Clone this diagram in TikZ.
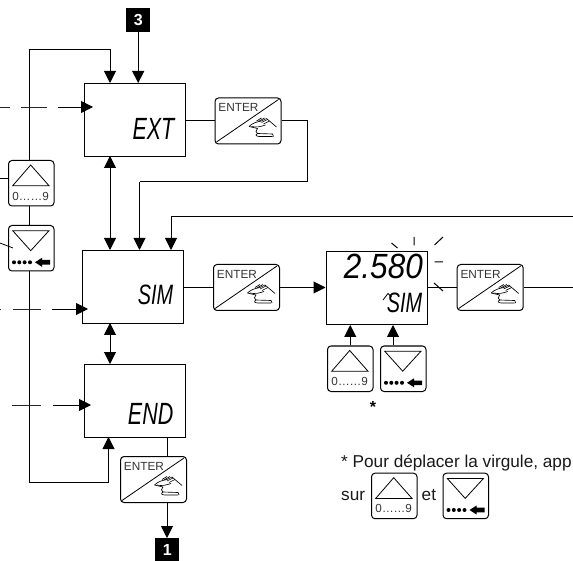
\documentclass[tikz,border=0pt]{standalone}
\usepackage{fontspec}
\setmainfont{Liberation Sans}
\usetikzlibrary{arrows.meta}
\newcommand{\lcdtxt}[3]{{\fontsize{#1}{#1}\selectfont\itshape\scalebox{#2}[1]{#3}}}
\tikzset{
 x=1pt,y=-1pt,
 line/.style={line width=1pt,black},
 arr/.style={line,-{Triangle[length=12pt,width=12pt]}},
 darr/.style={line,{Triangle[length=12pt,width=12pt]}-{Triangle[length=12pt,width=12pt]}},
 dashline/.style={line width=0.9pt,black!85},
 screen/.style={draw,line width=1pt,black,minimum width=101pt,minimum height=73pt,inner sep=0pt,anchor=north west},
 lcd/.style={anchor=east,inner sep=0pt,text=black},
 keybox/.style={draw,line width=1pt,black,rounded corners=3.5pt,minimum width=45.5pt,minimum height=45.5pt,inner sep=0pt,anchor=north west},
 enterbox/.style={draw,line width=1pt,black,rounded corners=3.5pt,minimum width=66pt,minimum height=46pt,inner sep=0pt,anchor=north west},
 tag/.style={fill=black,text=white,font=\fontsize{16}{16}\selectfont\bfseries,minimum size=24pt,inner sep=0pt,anchor=north west},
 txt/.style={font=\fontsize{17.2}{20}\selectfont,anchor=base west,inner sep=0pt,text=black!90},
}
\newcommand{\keyup}[3]{%
 \node[keybox] (#1) at (#2,#3) {};
 \draw[line width=0.8pt] (#2+4.7,#3+25.7) -- (#2+22.7,#3+5) -- (#2+41,#3+25.7) -- cycle;
 \node[font=\fontsize{11.7}{12}\selectfont,inner sep=0pt,text=black!80] at (#2+22.7,#3+36) {0\ldots\ldots9};
}
\newcommand{\keydown}[3]{%
 \node[keybox] (#1) at (#2,#3) {};
 \draw[line width=0.8pt] (#2+4.7,#3+5.7) -- (#2+41,#3+5.7) -- (#2+22.7,#3+25.7) -- cycle;
 \foreach \d in {6,11.3,16.6,22}{\fill (#2+\d,#3+37.3) circle (2pt);}
 \fill (#2+27,#3+37.3) -- (#2+34,#3+32.8) -- (#2+34,#3+35) -- (#2+42,#3+35) -- (#2+42,#3+39.6) -- (#2+34,#3+39.6) -- (#2+34,#3+41.8) -- cycle;
}
\newcommand{\enterkey}[3]{%
 \node[enterbox] (#1) at (#2,#3) {};
 \draw[line width=0.8pt] (#2+2,#3+44.5) -- (#2+64,#3+2);
 \node[font=\fontsize{11.8}{12}\selectfont,inner sep=0pt,anchor=west,text=black!80] at (#2+3.7,#3+10) {ENTER};
 \begin{scope}[shift={(#2,#3)},line width=0.65pt]
  \draw (34.5,29) .. controls (38,25.5) and (42,24.5) .. (47,23.5) -- (52,21);
  \draw (52,21) -- (62,29.5);
  \draw (37,29) .. controls (42,30) and (45,29.5) .. (51,27.5);
  \draw (42,23.5) -- (47,20.5) (44,24) -- (50,20.5) (47,25) -- (53,22) (49,26.5) -- (55,23.5);
  \draw (34.5,29) -- (43,31) .. controls (41,33) and (41,35) .. (43,36) -- (58,36.5) -- (59,39);
  \draw (43,36) .. controls (40,37.5) and (42,39) .. (45,39) -- (58,39);
 \end{scope}
}
\begin{document}
\begin{tikzpicture}
\useasboundingbox (0,0) rectangle (573,561);
% displays
\node[screen] (ext) at (83.5,83) {};
\node[screen] (sim) at (82,250) {};
\node[screen] (endb) at (83.5,364) {};
\node[screen] (val) at (325.5,251) {};
\node[lcd] at (174.5,129) {\lcdtxt{30.7}{0.70}{EXT}};
\node[lcd] at (173.5,295) {\lcdtxt{28}{0.71}{SIM}};
\node[lcd] at (173.5,414) {\lcdtxt{30.7}{0.70}{END}};
\node[lcd] at (423,266.5) {\lcdtxt{35}{0.9}{2.580}};
\node[lcd] at (422.5,303) {\lcdtxt{28}{0.71}{SIM}};
\draw[line width=0.8pt] (383,300) -- (388,293.5) -- (391.5,297);
% keys
\enterkey{e1}{214.5}{97.5}
\enterkey{e2}{213}{264}
\enterkey{e3}{120}{456}
\enterkey{e4}{456.7}{264}
\keyup{u1}{8}{160}
\keydown{d1}{8}{225}
\keyup{u2}{327}{345.5}
\keydown{d2}{380}{345.5}
\keyup{u3}{371}{472.7}
\keydown{d3}{442.5}{472.7}
\node[tag] (t3) at (126,8) {3};
\node[tag] (t1) at (155,538) {1};
% coordinates
\coordinate (cA) at (29,50);
\coordinate (cB) at (29,482);
\coordinate (cC) at (307,120);
\coordinate (cE) at (139.5,182);
\coordinate (cF) at (573,217);
\coordinate (cG) at (171,217);
\coordinate (cH) at (573,286);
\coordinate (cI) at (167,0);
\coordinate (cJ) at (393,0);
% connectors
\draw[arr] (t3.south) -- (t3.south |- ext.north);
\draw[arr] (u1.north -| cA) -- (cA) -- (110,50) -- (110,83);
\draw[line] (u1.south -| cA) -- (d1.north -| cA);
\draw[arr] (d1.south -| cA) -- (cB) -- (108.5,482) -- (108.5,437);
\draw[darr] (110,156) -- (110,250);
\draw[darr] (110,323) -- (110,364);
\draw[line] (e1.east) -- (e1.east -| cC) -- (cC |- cE) -- (cE);
\draw[line] (ext.east |- e1.west) -- (e1.west);
\draw[arr] (cE) -- (139.5,250);
\draw[arr] (cF) -- (cG) -- (171,250);
\draw[line] (sim.east |- e2.west) -- (e2.west);
\draw[arr] (e2.east) -- (e2.east -| val.west);
\draw[line] (val.east |- e4.west) -- (e4.west);
\draw[line] (e4.east) -- (e4.east -| cH);
\draw[line] (cI |- endb.south) -- (cI |- e3.north);
\draw[arr] (cI |- e3.south) -- (cI |- t1.north);
\draw[arr] (u2.north) -- (u2.north |- val.south);
\draw[arr] (cJ |- d2.north) -- (cJ |- val.south);
% dashed inputs
\coordinate (p1) at (0,107);
\coordinate (p2) at (0,309);
\coordinate (p3) at (12,405);
\draw[dashline] (p1) -- (10,107) (21,107) -- (47,107);
\draw[arr,line width=0.9pt] (58,107) -- (93,107);
\draw[dashline] (p2) -- (1,309) (13,309) -- (41,309);
\draw[arr,line width=0.9pt] (52,309) -- (88,309);
\draw[dashline] (p3) -- (41,405);
\draw[arr,line width=0.9pt] (53,405) -- (91,405);
\coordinate (q1) at (0,178);
\draw[line,line width=0.8pt] (q1) -- (q1 -| u1.west);
\draw[line,line width=0.8pt] (0,243) -- (13,248);
% flash
\draw[line width=1pt] (391.5,243) -- (397.5,248) (414,237) -- (414,245.5) (434.5,245) -- (443,237) (434.5,262) -- (443,262) (434,283) -- (443,291);
% footnote
\node[txt] (fn) at (341,467.7) {* Pour déplacer la virgule, app};
\node[txt] (sur) at (341,500.7) {sur};
\node[txt] (et) at (421.5,500.7) {et};
\node[font=\fontsize{16}{16}\selectfont\bfseries,inner sep=0pt] (st) at (373,407) {*};
\end{tikzpicture}
\end{document}
